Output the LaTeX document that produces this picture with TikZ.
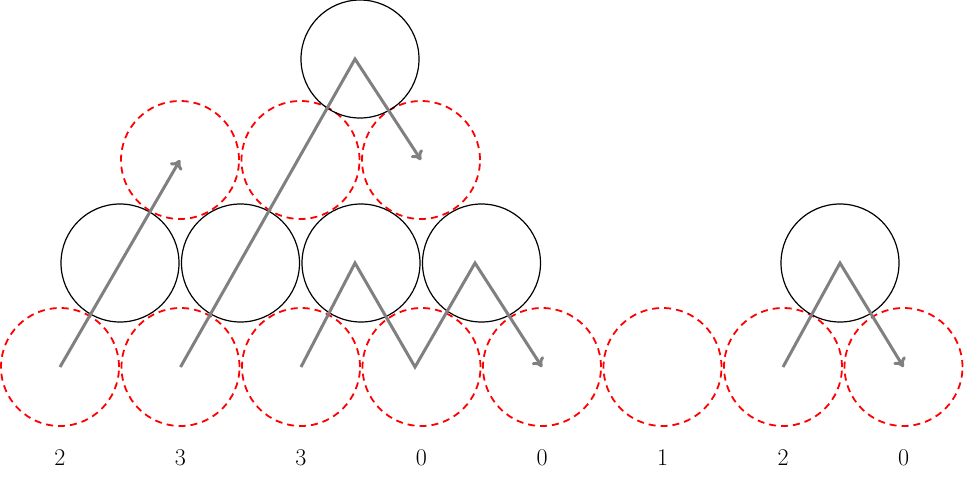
\documentclass[tikz,border=0pt]{standalone}
\usetikzlibrary{arrows.meta}
\begin{document}
\begin{tikzpicture}[x=1pt,y=-1pt,
 dcirc/.style={circle,draw=red,dashed,line width=1.8pt,dash pattern=on 7pt off 5pt,minimum size=118pt,inner sep=0pt},
 bcirc/.style={circle,draw=black,line width=1.2pt,minimum size=118pt,inner sep=0pt},
 path/.style={draw=gray,line width=3pt,-{To[length=9pt,width=14pt,line width=3pt]}},
 lab/.style={font=\fontsize{24}{24}\selectfont}]
\useasboundingbox (0,0) rectangle (971,483);
\foreach \i/\v in {0/2,1/3,2/3,3/0,4/0,5/1,6/2,7/0}{
  \node[dcirc] (r\i) at ({60+120.5*\i},367) {};
  \node[lab] (l\i) at ({60+120.5*\i},458) {\v};
}
\foreach \i in {0,1,2,3}{\node[bcirc] (b\i) at ({120+120.5*\i},263) {};}
\node[bcirc] (b6) at (840,263) {};
\foreach \i in {0,1,2}{\node[dcirc] (s\i) at ({180+120.5*\i},160) {};}
\node[bcirc] (t) at (360,59) {};
\draw[path] (r0.center) -- (s0.center);
\draw[path] (r1.center) -- (355,59) -- (s2.center);
\draw[path] (r2.center) -- (355,263) -- (415,367) -- (475,263) -- (r4.center);
\draw[path] (r6.center) -- (b6.center) -- (r7.center);
\end{tikzpicture}
\end{document}
